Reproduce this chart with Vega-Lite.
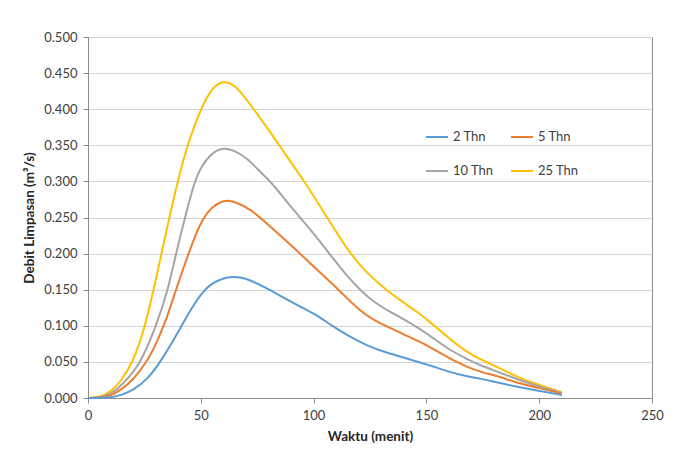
{
  "$schema": "https://vega.github.io/schema/vega-lite/v6.json",
  "width": 564,
  "height": 361,
  "autosize": {"type": "none"},
  "padding": {"left": 88, "top": 37, "right": 38, "bottom": 61},
  "background": "white",
  "config": {
    "font": "Lato",
    "view": {"stroke": "#8C8C8C", "strokeWidth": 1},
    "axis": {
      "labelFont": "Lato", "labelFontSize": 13, "labelColor": "#404040",
      "titleFont": "Lato", "titleFontSize": 13.5, "titleFontWeight": "bold", "titleColor": "#262626",
      "domainColor": "#8C8C8C", "tickColor": "#8C8C8C", "gridColor": "#D4D4D4", "tickSize": 5
    }
  },
  "data": {"values": [
    {"t":0,"q":0,"s":"25 Thn"},{"t":5,"q":0.001,"s":"25 Thn"},{"t":10,"q":0.008,"s":"25 Thn"},{"t":15,"q":0.025,"s":"25 Thn"},{"t":20,"q":0.05,"s":"25 Thn"},{"t":25,"q":0.095,"s":"25 Thn"},{"t":30,"q":0.162,"s":"25 Thn"},{"t":36,"q":0.25,"s":"25 Thn"},{"t":40,"q":0.303,"s":"25 Thn"},{"t":44,"q":0.35,"s":"25 Thn"},{"t":50,"q":0.401,"s":"25 Thn"},{"t":55,"q":0.43,"s":"25 Thn"},{"t":60,"q":0.44,"s":"25 Thn"},{"t":65,"q":0.434,"s":"25 Thn"},{"t":70,"q":0.415,"s":"25 Thn"},{"t":80,"q":0.372,"s":"25 Thn"},{"t":88,"q":0.335,"s":"25 Thn"},{"t":96,"q":0.3,"s":"25 Thn"},{"t":106,"q":0.25,"s":"25 Thn"},{"t":116,"q":0.2,"s":"25 Thn"},{"t":124,"q":0.172,"s":"25 Thn"},{"t":132,"q":0.15,"s":"25 Thn"},{"t":140,"q":0.132,"s":"25 Thn"},{"t":146,"q":0.119,"s":"25 Thn"},{"t":152,"q":0.104,"s":"25 Thn"},{"t":160,"q":0.083,"s":"25 Thn"},{"t":168,"q":0.063,"s":"25 Thn"},{"t":175,"q":0.052,"s":"25 Thn"},{"t":182,"q":0.042,"s":"25 Thn"},{"t":191,"q":0.028,"s":"25 Thn"},{"t":200,"q":0.018,"s":"25 Thn"},{"t":210,"q":0.008,"s":"25 Thn"},

    {"t":0,"q":0,"s":"10 Thn"},{"t":5,"q":0.0005,"s":"10 Thn"},{"t":10,"q":0.005,"s":"10 Thn"},{"t":15,"q":0.018,"s":"10 Thn"},{"t":20,"q":0.035,"s":"10 Thn"},{"t":24,"q":0.054,"s":"10 Thn"},{"t":30,"q":0.098,"s":"10 Thn"},{"t":35.5,"q":0.15,"s":"10 Thn"},{"t":39,"q":0.2,"s":"10 Thn"},{"t":43,"q":0.25,"s":"10 Thn"},{"t":47,"q":0.298,"s":"10 Thn"},{"t":50,"q":0.32,"s":"10 Thn"},{"t":55,"q":0.34,"s":"10 Thn"},{"t":60,"q":0.347,"s":"10 Thn"},{"t":65,"q":0.343,"s":"10 Thn"},{"t":71,"q":0.331,"s":"10 Thn"},{"t":75,"q":0.317,"s":"10 Thn"},{"t":81,"q":0.3,"s":"10 Thn"},{"t":88,"q":0.272,"s":"10 Thn"},{"t":94,"q":0.25,"s":"10 Thn"},{"t":100,"q":0.228,"s":"10 Thn"},{"t":107,"q":0.2,"s":"10 Thn"},{"t":114,"q":0.172,"s":"10 Thn"},{"t":121,"q":0.148,"s":"10 Thn"},{"t":128,"q":0.13,"s":"10 Thn"},{"t":134,"q":0.119,"s":"10 Thn"},{"t":140,"q":0.109,"s":"10 Thn"},{"t":147,"q":0.096,"s":"10 Thn"},{"t":153,"q":0.083,"s":"10 Thn"},{"t":160,"q":0.067,"s":"10 Thn"},{"t":168,"q":0.054,"s":"10 Thn"},{"t":174,"q":0.045,"s":"10 Thn"},{"t":182,"q":0.036,"s":"10 Thn"},{"t":191,"q":0.025,"s":"10 Thn"},{"t":200,"q":0.016,"s":"10 Thn"},{"t":210,"q":0.007,"s":"10 Thn"},

    {"t":0,"q":0,"s":"5 Thn"},{"t":5,"q":0.0003,"s":"5 Thn"},{"t":10,"q":0.003,"s":"5 Thn"},{"t":15,"q":0.012,"s":"5 Thn"},{"t":20,"q":0.025,"s":"5 Thn"},{"t":26.5,"q":0.052,"s":"5 Thn"},{"t":30,"q":0.074,"s":"5 Thn"},{"t":34,"q":0.102,"s":"5 Thn"},{"t":39,"q":0.15,"s":"5 Thn"},{"t":44.5,"q":0.2,"s":"5 Thn"},{"t":50,"q":0.245,"s":"5 Thn"},{"t":55,"q":0.266,"s":"5 Thn"},{"t":61,"q":0.275,"s":"5 Thn"},{"t":65,"q":0.272,"s":"5 Thn"},{"t":72,"q":0.262,"s":"5 Thn"},{"t":81,"q":0.237,"s":"5 Thn"},{"t":87,"q":0.22,"s":"5 Thn"},{"t":94,"q":0.2,"s":"5 Thn"},{"t":100,"q":0.182,"s":"5 Thn"},{"t":106,"q":0.165,"s":"5 Thn"},{"t":112,"q":0.147,"s":"5 Thn"},{"t":120,"q":0.122,"s":"5 Thn"},{"t":127,"q":0.107,"s":"5 Thn"},{"t":134,"q":0.097,"s":"5 Thn"},{"t":140,"q":0.088,"s":"5 Thn"},{"t":147,"q":0.078,"s":"5 Thn"},{"t":152,"q":0.07,"s":"5 Thn"},{"t":160,"q":0.055,"s":"5 Thn"},{"t":168,"q":0.043,"s":"5 Thn"},{"t":174,"q":0.036,"s":"5 Thn"},{"t":182,"q":0.03,"s":"5 Thn"},{"t":191,"q":0.02,"s":"5 Thn"},{"t":200,"q":0.014,"s":"5 Thn"},{"t":210,"q":0.006,"s":"5 Thn"},

    {"t":0,"q":0,"s":"2 Thn"},{"t":5,"q":0,"s":"2 Thn"},{"t":10,"q":0.0008,"s":"2 Thn"},{"t":15,"q":0.004,"s":"2 Thn"},{"t":20,"q":0.011,"s":"2 Thn"},{"t":26.5,"q":0.026,"s":"2 Thn"},{"t":32,"q":0.05,"s":"2 Thn"},{"t":36,"q":0.07,"s":"2 Thn"},{"t":41.5,"q":0.1,"s":"2 Thn"},{"t":46,"q":0.125,"s":"2 Thn"},{"t":51,"q":0.148,"s":"2 Thn"},{"t":55,"q":0.159,"s":"2 Thn"},{"t":60,"q":0.166,"s":"2 Thn"},{"t":64,"q":0.168,"s":"2 Thn"},{"t":68,"q":0.167,"s":"2 Thn"},{"t":72,"q":0.163,"s":"2 Thn"},{"t":80,"q":0.151,"s":"2 Thn"},{"t":86,"q":0.14,"s":"2 Thn"},{"t":95,"q":0.125,"s":"2 Thn"},{"t":101,"q":0.116,"s":"2 Thn"},{"t":108,"q":0.1,"s":"2 Thn"},{"t":116,"q":0.085,"s":"2 Thn"},{"t":124,"q":0.072,"s":"2 Thn"},{"t":131,"q":0.064,"s":"2 Thn"},{"t":140,"q":0.056,"s":"2 Thn"},{"t":146,"q":0.05,"s":"2 Thn"},{"t":152,"q":0.045,"s":"2 Thn"},{"t":160,"q":0.036,"s":"2 Thn"},{"t":168,"q":0.03,"s":"2 Thn"},{"t":174,"q":0.027,"s":"2 Thn"},{"t":182,"q":0.021,"s":"2 Thn"},{"t":191,"q":0.015,"s":"2 Thn"},{"t":200,"q":0.01,"s":"2 Thn"},{"t":210,"q":0.004,"s":"2 Thn"}
  ]},
  "mark": {"type": "line", "interpolate": "basis", "strokeWidth": 2},
  "encoding": {
    "x": {"field": "t", "type": "quantitative",
      "scale": {"domain": [0, 250], "nice": false},
      "axis": {"values": [0, 50, 100, 150, 200, 250], "grid": false, "title": "Waktu (menit)", "labelPadding": 6, "titlePadding": 7, "labelFlush": false}},
    "y": {"field": "q", "type": "quantitative",
      "scale": {"domain": [0, 0.5], "nice": false},
      "axis": {"values": [0, 0.05, 0.1, 0.15, 0.2, 0.25, 0.3, 0.35, 0.4, 0.45, 0.5], "format": ".3f", "grid": true, "title": "Debit Limpasan (m³/s)", "labelPadding": 6, "titlePadding": 7, "labelFlush": false}},
    "color": {"field": "s", "type": "nominal",
      "scale": {"domain": ["2 Thn", "5 Thn", "10 Thn", "25 Thn"], "range": ["#5B9BD5", "#ED7D31", "#A5A5A5", "#FFC000"]},
      "legend": {"title": null, "orient": "none", "direction": "horizontal", "legendX": 337, "legendY": 88, "columns": 2, "symbolType": "stroke", "symbolSize": 484, "symbolStrokeWidth": 2, "labelFont": "Lato", "labelFontSize": 13, "labelColor": "#404040", "labelOffset": 4, "rowPadding": 15, "columnPadding": 13}}
  }
}
